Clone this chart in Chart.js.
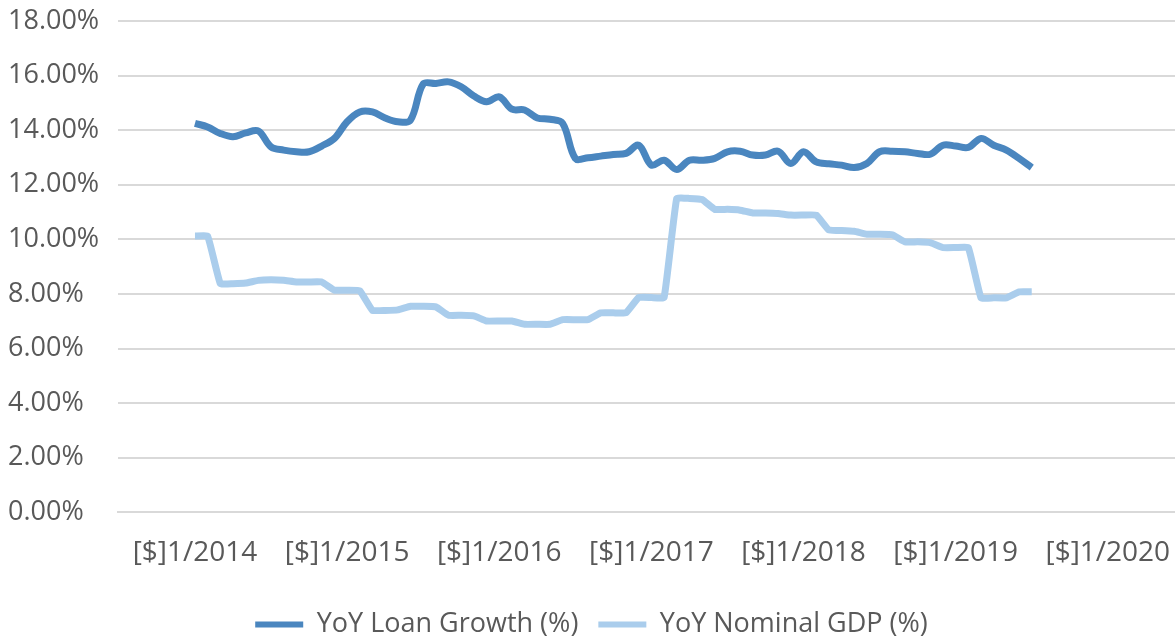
<!DOCTYPE html>
<html>
<head>
<meta charset="utf-8">
<script src="https://cdn.jsdelivr.net/npm/chart.js@4.4.1/dist/chart.umd.min.js"></script>
<style>
    html, body {
        margin: 0;
        padding: 0;
        background: #ffffff;
    }
    #wrap {
        width: 1175px;
        height: 638px;
    }
</style>
</head>
<body>
<div id="wrap"><canvas id="chart" width="1175" height="638"></canvas></div>
<script>
// monthly values, Jan 2014 .. Jul 2019
const loanGrowth = [
    14.25, 14.12, 13.88, 13.76, 13.90, 13.97, 13.39, 13.27, 13.21, 13.21, 13.42, 13.70,
    14.31, 14.67, 14.67, 14.45, 14.31, 14.37, 15.69, 15.71, 15.77, 15.59, 15.25, 15.04,
    15.22, 14.77, 14.74, 14.45, 14.40, 14.25, 12.97, 12.99, 13.05, 13.11, 13.15, 13.45,
    12.72, 12.90, 12.56, 12.90, 12.90, 12.97, 13.21, 13.23, 13.09, 13.09, 13.23, 12.78,
    13.21, 12.84, 12.77, 12.72, 12.63, 12.78, 13.21, 13.23, 13.21, 13.15, 13.12, 13.45,
    13.42, 13.37, 13.70, 13.45, 13.27, 12.97, 12.63
];

const nominalGdp = [
    10.12, 10.12, 8.38, 8.38, 8.40, 8.50, 8.52, 8.50, 8.44, 8.44, 8.44, 8.14,
    8.14, 8.12, 7.40, 7.40, 7.42, 7.55, 7.55, 7.53, 7.22, 7.22, 7.20, 7.01,
    7.01, 7.01, 6.89, 6.89, 6.89, 7.06, 7.06, 7.06, 7.31, 7.31, 7.31, 7.87,
    7.87, 7.87, 11.50, 11.50, 11.46, 11.10, 11.10, 11.07, 10.97, 10.97, 10.95, 10.89,
    10.89, 10.89, 10.34, 10.33, 10.30, 10.19, 10.19, 10.17, 9.91, 9.91, 9.88, 9.70,
    9.70, 9.70, 7.86, 7.86, 7.86, 8.08, 8.08
];

const yearLabels = ["2014", "2015", "2016", "2017", "2018", "2019", "2020"];
const yTicks = [0, 2, 4, 6, 8, 10, 12, 14, 16, 18];

const seriesNames = ["YoY Loan Growth (%)", "YoY Nominal GDP (%)"];

const textColor = "#595959";
const gridColor = "#d9d9d9";
const fontFamily = "'Open Sans', sans-serif";

function toPoints(values) {
    return values.map((v, i) => ({ x: i, y: v }));
}

new Chart(
    document.getElementById("chart").getContext("2d"),
{
    type: "line",

    data: {
        datasets: [{
            label: seriesNames[0],
            data: toPoints(loanGrowth),
            borderColor: "#4a86bf",
            backgroundColor: "#4a86bf",
            borderWidth: 7,
            pointRadius: 0,
            tension: 0.35,
            fill: false
        }, {
            label: seriesNames[1],
            data: toPoints(nominalGdp),
            borderColor: "#aacdec",
            backgroundColor: "#aacdec",
            borderWidth: 7,
            pointRadius: 0,
            tension: 0.1,
            fill: false
        }]
    },

    options: {
        animation: false,
        responsive: false,
        layout: {
            padding: { left: 8, right: 0, top: 21, bottom: -10 }
        },
        plugins: {
            tooltip: { enabled: false },
            legend: {
                position: "bottom",
                labels: {
                    boxWidth: 48,
                    boxHeight: 6,
                    padding: 20,
                    color: textColor,
                    font: { family: fontFamily, size: 27, lineHeight: 1.2 },
                    generateLabels: chart => {
                        const items =
                            Chart.defaults.plugins.legend.labels.generateLabels(chart);
                        items.forEach(item => { item.lineWidth = 0; });
                        return items;
                    }
                }
            }
        },
        scales: {
            x: {
                type: "linear",
                min: -6.07,
                max: 77.3,
                afterBuildTicks: axis => {
                    axis.ticks = yearLabels.map((y, i) => ({ value: i * 12 }));
                },
                afterFit: axis => {
                    axis.height = 78.6;
                    axis.paddingLeft = 0;
                    axis.paddingRight = 0;
                },
                ticks: {
                    color: textColor,
                    padding: 24,
                    maxRotation: 0,
                    autoSkip: false,
                    font: { family: fontFamily, size: 28 },
                    callback: (value) => "[$]1/" + yearLabels[Math.round(value / 12)]
                },
                grid: { display: false, drawTicks: false },
                border: { display: true, color: gridColor, width: 2 }
            },
            y: {
                min: 0,
                max: 18,
                afterBuildTicks: axis => {
                    axis.ticks = yTicks.map(v => ({ value: v }));
                },
                afterFit: axis => {
                    axis.width = 110;
                },
                ticks: {
                    color: textColor,
                    crossAlign: "far",
                    font: { family: fontFamily, size: 27 },
                    callback: (value) => value.toFixed(2) + "%"
                },
                grid: {
                    color: gridColor,
                    lineWidth: 2,
                    drawTicks: false
                },
                border: { display: false }
            }
        }
    }
});
</script>
</body>
</html>
